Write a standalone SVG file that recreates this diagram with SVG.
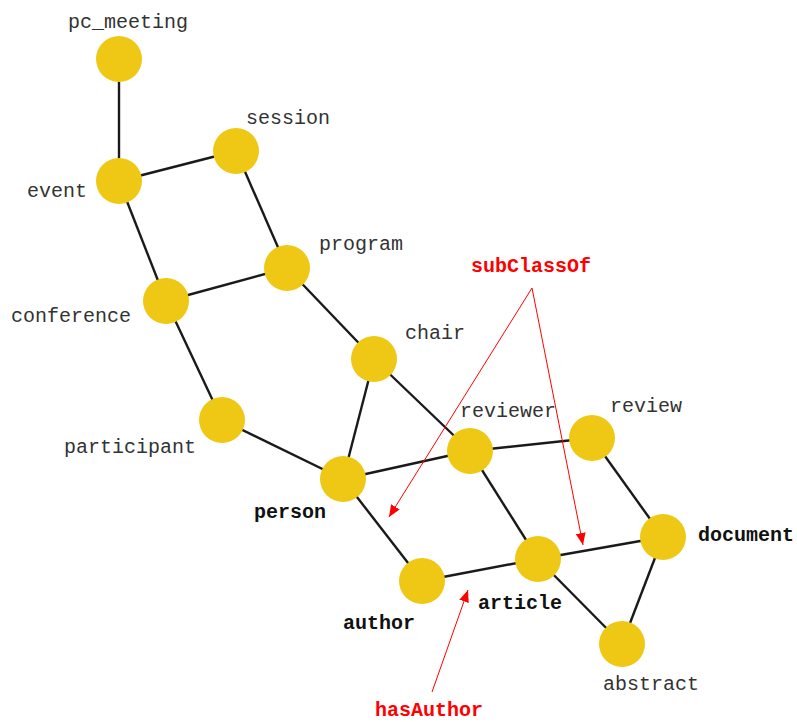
<svg xmlns="http://www.w3.org/2000/svg" width="797" height="722" viewBox="0 0 797 722">
<style>
.e{stroke:#1a1a1a;stroke-width:2.4;fill:none}
.n{fill:#EFC815}
.t{font-family:"Liberation Mono","Courier New",monospace;font-size:20px;fill:#333}
.b{font-family:"Liberation Mono","Courier New",monospace;font-size:20px;font-weight:bold;fill:#111}
.r{font-family:"Liberation Mono","Courier New",monospace;font-size:20px;font-weight:bold;fill:#ff0000}
.a{stroke:#ff0000;stroke-width:1;fill:none}
</style>
<defs>
<marker id="ah" viewBox="0 0 12 10" refX="12" refY="5" markerWidth="12" markerHeight="10" markerUnits="userSpaceOnUse" orient="auto">
<path d="M0,0 L12,5 L0,10 z" fill="#ff0000"/>
</marker>
</defs>
<rect width="797" height="722" fill="#fff"/>
<g id="connectors">
<line class="e" x1="119" y1="59" x2="119" y2="181"/>
<line class="e" x1="119" y1="181" x2="236" y2="151"/>
<line class="e" x1="119" y1="181" x2="166" y2="301"/>
<line class="e" x1="236" y1="151" x2="287" y2="268"/>
<line class="e" x1="166" y1="301" x2="287" y2="268"/>
<line class="e" x1="287" y1="268" x2="374" y2="359"/>
<line class="e" x1="166" y1="301" x2="222" y2="420"/>
<line class="e" x1="222" y1="420" x2="343" y2="479"/>
<line class="e" x1="374" y1="359" x2="343" y2="479"/>
<line class="e" x1="374" y1="359" x2="470" y2="451"/>
<line class="e" x1="343" y1="479" x2="470" y2="451"/>
<line class="e" x1="470" y1="451" x2="592" y2="438"/>
<line class="e" x1="470" y1="451" x2="538" y2="559"/>
<line class="e" x1="592" y1="438" x2="663" y2="537"/>
<line class="e" x1="343" y1="479" x2="422" y2="581"/>
<line class="e" x1="422" y1="581" x2="538" y2="559"/>
<line class="e" x1="538" y1="559" x2="663" y2="537"/>
<line class="e" x1="538" y1="559" x2="622" y2="644"/>
<line class="e" x1="663" y1="537" x2="622" y2="644"/>
</g>
<g id="annotations">
<line class="a" x1="532" y1="288" x2="389" y2="517" marker-end="url(#ah)"/>
<line class="a" x1="532" y1="288" x2="583" y2="545" marker-end="url(#ah)"/>
<line class="a" x1="432" y1="692" x2="468" y2="590" marker-end="url(#ah)"/>
<text class="r" x="471" y="272">subClassOf</text>
<text class="r" x="375" y="716">hasAuthor</text>
</g>
<g id="pc_meeting"><circle class="n" cx="119" cy="59" r="23"/><text class="t" x="68" y="28">pc_meeting</text></g>
<g id="event"><circle class="n" cx="119" cy="181" r="23"/><text class="t" x="27" y="197">event</text></g>
<g id="session"><circle class="n" cx="236" cy="151" r="23"/><text class="t" x="246" y="124">session</text></g>
<g id="program"><circle class="n" cx="287" cy="268" r="23"/><text class="t" x="319" y="250">program</text></g>
<g id="conference"><circle class="n" cx="166" cy="301" r="23"/><text class="t" x="11" y="322">conference</text></g>
<g id="chair"><circle class="n" cx="374" cy="359" r="23"/><text class="t" x="405" y="339">chair</text></g>
<g id="participant"><circle class="n" cx="222" cy="420" r="23"/><text class="t" x="64" y="453">participant</text></g>
<g id="reviewer"><circle class="n" cx="470" cy="451" r="23"/><text class="t" x="460" y="417">reviewer</text></g>
<g id="review"><circle class="n" cx="592" cy="438" r="23"/><text class="t" x="610" y="412">review</text></g>
<g id="person"><circle class="n" cx="343" cy="479" r="23"/><text class="b" x="254" y="518">person</text></g>
<g id="document"><circle class="n" cx="663" cy="537" r="23"/><text class="b" x="698" y="541">document</text></g>
<g id="article"><circle class="n" cx="538" cy="559" r="23"/><text class="b" x="478" y="609">article</text></g>
<g id="author"><circle class="n" cx="422" cy="581" r="23"/><text class="b" x="343" y="629">author</text></g>
<g id="abstract"><circle class="n" cx="622" cy="644" r="23"/><text class="t" x="603" y="690">abstract</text></g>
</svg>
